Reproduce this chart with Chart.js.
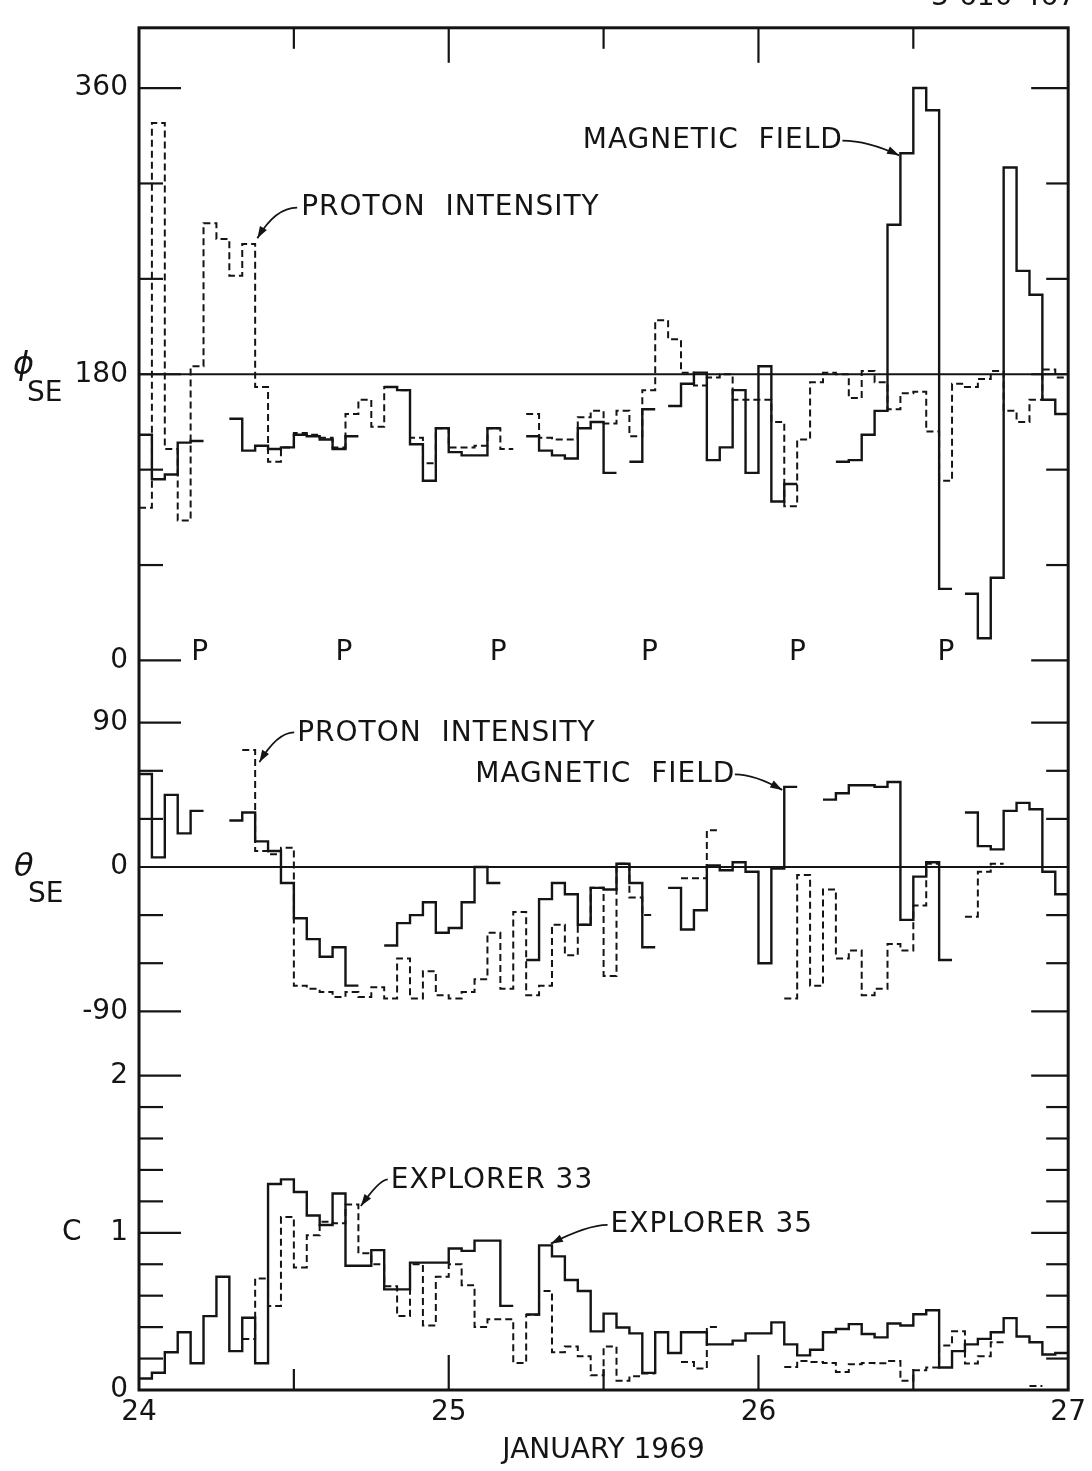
<!DOCTYPE html>
<html>
<head>
<meta charset="utf-8">
<script src="https://cdn.jsdelivr.net/npm/chart.js@4.4.1/dist/chart.umd.min.js"></script>
<style>
  html, body { margin: 0; padding: 0; background: #fff; overflow: hidden; }
  canvas { display: block; }
</style>
</head>
<body>
<canvas id="chart" width="1092" height="1471"></canvas>
<script>
const FONT = '"DejaVu Sans", "Liberation Sans", sans-serif';
const INK = '#141414';

// time axis (days of January 1969)
const dayTicks = [24, 24.5, 25, 25.5, 26, 26.5, 27];
const dayLabels = [24, 25, 26, 27];

// panel tick marks and the ones that carry a number
const phiTicks = [0, 60, 120, 180, 240, 300, 360];
const phiTickLabels = [0, 180, 360];
const thetaTicks = [-90, -60, -30, 0, 30, 60, 90];
const thetaTickLabels = [-90, 0, 90];
const cTicks = [0, 0.2, 0.4, 0.6, 0.8, 1, 1.2, 1.4, 1.6, 1.8, 2];
const cTickLabels = [0, 1, 2];

// periselene passes ("P")
const periseleneTimes = [24.196, 24.662, 25.160, 25.648, 26.126, 26.605];

// hourly averages from 24 Jan 00 UT; null = no data
const phiField = [
  142, 114, 117, 137, 138, null, null, 152, 132, 135, 133, 134, 142, 141, 139, 133, 141, null, null, 172, 170, 136, 113, 146,
  131, 129, 129, 146, null, null, 141, 132, 129, 127, 146, 150, 118, null, 125, 158, null, 160, 174, 181, 126, 134, 170, 118,
  185, 100, 111, null, null, null, 125, 126, 142, 157, 274, 319, 360, 346, 45, null, 42, 14, 52, 310, 245, 230, 164, 155
];
const phiProton = [
  96, 338, 133, 88, 185, 275, 265, 242, 262, 172, 125, 134, 143, 142, 140, 134, 155, 164, 147, 172, 170, 140, 124, 146,
  134, 134, 135, 146, 133, null, 155, 140, 139, 139, 153, 157, 149, 157, 141, 170, 214, 202, 181, 173, 178, 180, 164, 164,
  164, 150, 97, 139, 175, 181, 180, 165, 182, 175, 158, 168, 169, 144, 113, 174, 172, 177, 182, 157, 150, 164, 183, 178
];
const thetaField = [
  58, 6, 45, 21, 35, null, null, 29, 34, 16, 10, -10, -32, -45, -56, -50, -74, null, null, -49, -35, -30, -22, -41,
  -38, -22, 0, -10, null, null, -58, -20, -10, -17, -36, -13, -14, 2, -10, -50, null, -13, -39, -27, 1, -2, 3, -3,
  -60, -1, 50, null, null, 42, 46, 51, 51, 50, 53, -33, -6, 3, -58, null, 34, 13, 11, 35, 40, 36, -3, -17
];
const thetaProton = [
  null, null, null, null, null, null, null, null, 73, 10, 8, 12, -74, -76, -78, -81, -78, -81, -75, -82, -57, -82, -65, -80,
  -82, -78, -70, -41, -76, -28, -80, -74, -36, -55, -36, -13, -68, 2, -19, -30, null, null, -7, -7, 23, null, null, null,
  null, null, -82, -5, -74, -14, -57, -52, -80, -76, -48, -52, -24, 2, null, null, -31, -3, 2, null, null, null, null, null
];
const cExplorer35 = [
  0.073, 0.11, 0.24, 0.367, 0.17, 0.47, 0.72, 0.247, 0.46, 0.17, 1.31, 1.34, 1.26, 1.11, 1.05, 1.25, 0.79, 0.79, 0.89, 0.64, 0.64, 0.81, 0.81, 0.81,
  0.9, 0.885, 0.95, 0.95, 0.535, null, 0.48, 0.92, 0.85, 0.70, 0.63, 0.373, 0.486, 0.398, 0.36, 0.109, 0.367, 0.235, 0.367, 0.367, 0.29, 0.29, 0.314, 0.36,
  0.36, 0.43, 0.29, 0.22, 0.256, 0.367, 0.388, 0.419, 0.356, 0.335, 0.423, 0.41, 0.482, 0.507, 0.143, 0.247, 0.29, 0.325, 0.367, 0.457, 0.34, 0.304, 0.226, 0.235
];
const cExplorer33 = [
  null, null, null, null, null, null, null, null, 0.325, 0.71, 0.535, 1.1, 0.78, 0.985, 1.07, 1.06, 1.18, 0.87, 0.8, 0.66, 0.47, 0.8, 0.41, 0.72,
  0.8, 0.667, 0.40, 0.45, 0.45, 0.172, 0.478, 0.63, 0.24, 0.277, 0.214, 0.094, 0.277, 0.059, 0.088, 0.105, null, null, 0.178, 0.136, 0.40, null, null, null,
  null, null, 0.147, 0.184, 0.178, 0.172, 0.115, 0.164, 0.172, 0.17, 0.184, 0.059, 0.126, 0.143, 0.283, 0.373, 0.168, 0.214, 0.304, null, null, 0.025, null, null
];

// labelled leader arrows: text anchor and leader path in data units
const callouts = [
  { axis: 'phi',   text: 'MAGNETIC  FIELD',   at: [25.4326, 327],  path: [[26.271, 327], [26.352, 327], [26.454, 317.7]] },
  { axis: 'phi',   text: 'PROTON  INTENSITY', at: [24.5236, 284.8], path: [[24.5107, 284.8], [24.44, 284.8], [24.3822, 265.5]] },
  { axis: 'theta', text: 'PROTON  INTENSITY', at: [24.5107, 83.2], path: [[24.501, 84], [24.4465, 84], [24.3887, 65.4]] },
  { axis: 'theta', text: 'MAGNETIC  FIELD',   at: [25.0857, 57.3], path: [[25.924, 57.8], [25.988, 57.8], [26.0767, 48.1]] },
  { axis: 'c',     text: 'EXPLORER 33',       at: [24.8126, 1.333], path: [[24.803, 1.34], [24.777, 1.34], [24.7163, 1.17]] },
  { axis: 'c',     text: 'EXPLORER 35',       at: [25.5225, 1.05],  path: [[25.5129, 1.05], [25.4486, 1.05], [25.3298, 0.931]] }
];

const DAY0 = 24;
function histogram(values) {
  const pts = [];
  values.forEach((v, h) => {
    const t0 = DAY0 + h / 24, t1 = DAY0 + (h + 1) / 24;
    if (v === null) pts.push({ x: t0, y: null });
    else pts.push({ x: t0, y: v }, { x: t1, y: v });
  });
  return pts;
}
function series(label, values, axis, dashed) {
  return {
    label, data: histogram(values), yAxisID: axis,
    borderColor: INK, borderWidth: dashed ? 2 : 2.4,
    borderDash: dashed ? [7, 4] : [],
    pointRadius: 0, pointHoverRadius: 0, tension: 0, spanGaps: false, fill: false,
    borderJoinStyle: 'miter', borderCapStyle: 'butt'
  };
}
function refLine(axis, value) {
  return {
    label: 'ref', data: [{ x: 24, y: value }, { x: 27, y: value }], yAxisID: axis,
    borderColor: INK, borderWidth: 1.8, pointRadius: 0, tension: 0, fill: false
  };
}
const isIn = (list, v) => list.some(l => Math.abs(l - v) < 1e-9);

function panelAxis(min, max, ticks, labelled, weight, order) {
  return {
    type: 'linear', position: 'left', stack: 'panels', stackWeight: weight, weight: order,
    min, max,
    afterBuildTicks: s => { s.ticks = ticks.map(v => ({ value: v })); },
    afterFit: s => { s.width = 139; },
    grid: { display: false, drawTicks: false },
    border: { display: false },
    ticks: {
      autoSkip: false, padding: 11, color: INK,
      font: { family: FONT, size: 28 },
      callback: v => isIn(labelled, v) ? String(v) : ''
    }
  };
}

function line(ctx, x1, y1, x2, y2) {
  ctx.beginPath(); ctx.moveTo(x1, y1); ctx.lineTo(x2, y2); ctx.stroke();
}

const panelMarks = {
  id: 'panelMarks',
  afterDraw(chart) {
    const { ctx, chartArea: a, scales } = chart;
    const X = scales.x;
    ctx.save();
    ctx.strokeStyle = INK; ctx.fillStyle = INK;

    // frame
    ctx.lineWidth = 3;
    ctx.strokeRect(a.left, a.top, a.right - a.left, a.bottom - a.top);

    // inward tick marks on both sides
    ctx.lineWidth = 2.2;
    [['phi', phiTickLabels], ['theta', thetaTickLabels], ['c', cTickLabels]].forEach(([id, labelled]) => {
      const s = scales[id];
      s.ticks.forEach(t => {
        const y = s.getPixelForValue(t.value);
        const major = isIn(labelled, t.value);
        line(ctx, a.left, y, a.left + (major ? 42 : 24), y);
        line(ctx, a.right - (major ? 37 : 22), y, a.right, y);
      });
    });
    X.ticks.forEach(t => {
      if (t.value <= 24 || t.value >= 27) return;
      const x = X.getPixelForValue(t.value);
      const len = Number.isInteger(t.value) ? 35 : 21;
      line(ctx, x, a.top, x, a.top + len);
      line(ctx, x, a.bottom - len, x, a.bottom);
    });

    // periselene markers
    ctx.font = `28px ${FONT}`;
    ctx.textAlign = 'center'; ctx.textBaseline = 'alphabetic';
    const yP = scales.phi.getPixelForValue(0);
    periseleneTimes.forEach(t => ctx.fillText('P', X.getPixelForValue(t), yP));

    // callouts with leader arrows
    if ('letterSpacing' in ctx) ctx.letterSpacing = '1px';
    callouts.forEach(c => {
      const Y = scales[c.axis];
      ctx.textAlign = 'left'; ctx.textBaseline = 'middle';
      ctx.fillText(c.text, X.getPixelForValue(c.at[0]), Y.getPixelForValue(c.at[1]));
      const pts = c.path.map(([t, v]) => [X.getPixelForValue(t), Y.getPixelForValue(v)]);
      ctx.lineWidth = 1.8;
      ctx.beginPath();
      ctx.moveTo(pts[0][0], pts[0][1]);
      ctx.quadraticCurveTo(pts[1][0], pts[1][1], pts[2][0], pts[2][1]);
      ctx.stroke();
      const [tx, ty] = pts[2];
      const ang = Math.atan2(ty - pts[1][1], tx - pts[1][0]);
      ctx.beginPath();
      ctx.moveTo(tx, ty);
      ctx.lineTo(tx - 12 * Math.cos(ang) + 4 * Math.sin(ang), ty - 12 * Math.sin(ang) - 4 * Math.cos(ang));
      ctx.lineTo(tx - 12 * Math.cos(ang) - 4 * Math.sin(ang), ty - 12 * Math.sin(ang) + 4 * Math.cos(ang));
      ctx.closePath();
      ctx.fill();
    });
    if ('letterSpacing' in ctx) ctx.letterSpacing = '0px';

    // panel quantity symbols
    ctx.textAlign = 'left'; ctx.textBaseline = 'middle';
    const yPhi = scales.phi.getPixelForValue(180);
    ctx.font = `italic 32px ${FONT}`;
    ctx.fillText('\u03D5', 13, yPhi - 9);
    ctx.font = `28px ${FONT}`;
    ctx.fillText('SE', 27, yPhi + 19);
    const yTh = scales.theta.getPixelForValue(0);
    ctx.font = `italic 32px ${FONT}`;
    ctx.fillText('\u03B8', 14, yTh + 1);
    ctx.font = `28px ${FONT}`;
    ctx.fillText('SE', 28, yTh + 28);
    ctx.fillText('C', 62, scales.c.getPixelForValue(1));

    // figure number at the top edge
    ctx.textAlign = 'right'; ctx.textBaseline = 'alphabetic';
    ctx.fillText('3-610-467', 1076, 5);
    ctx.restore();
  }
};

new Chart(document.getElementById('chart'), {
  type: 'line',
  data: {
    datasets: [
      refLine('phi', 180),
      refLine('theta', 0),
      series('Proton intensity', phiProton, 'phi', true),
      series('Magnetic field', phiField, 'phi', false),
      series('Proton intensity', thetaProton, 'theta', true),
      series('Magnetic field', thetaField, 'theta', false),
      series('Explorer 33', cExplorer33, 'c', true),
      series('Explorer 35', cExplorer35, 'c', false)
    ]
  },
  options: {
    responsive: false, animation: false, devicePixelRatio: 1,
    layout: { padding: { top: 12, right: 19, bottom: 0, left: 0 } },
    plugins: { legend: { display: false }, tooltip: { enabled: false }, title: { display: false } },
    events: [],
    scales: {
      x: {
        type: 'linear', position: 'bottom', min: 24, max: 27,
        afterBuildTicks: s => { s.ticks = dayTicks.map(v => ({ value: v })); },
        afterFit: s => { s.height = 81; },
        grid: { display: false, drawTicks: false },
        border: { display: false },
        ticks: {
          autoSkip: false, maxRotation: 0, padding: 6, color: INK,
          font: { family: FONT, size: 28 },
          callback: v => isIn(dayLabels, v) ? String(v) : ''
        },
        title: {
          display: true, text: 'JANUARY 1969', color: INK,
          font: { family: FONT, size: 28 }, padding: { top: 0, bottom: 3 }
        }
      },
      phi: panelAxis(-19.9, 397.9, phiTicks, phiTickLabels, 672, 3),
      theta: panelAxis(-110.4, 109.1, thetaTicks, thetaTickLabels, 356, 2),
      c: panelAxis(0, 2.201, cTicks, cTickLabels, 350, 1)
    }
  },
  plugins: [panelMarks]
});
</script>
</body>
</html>
